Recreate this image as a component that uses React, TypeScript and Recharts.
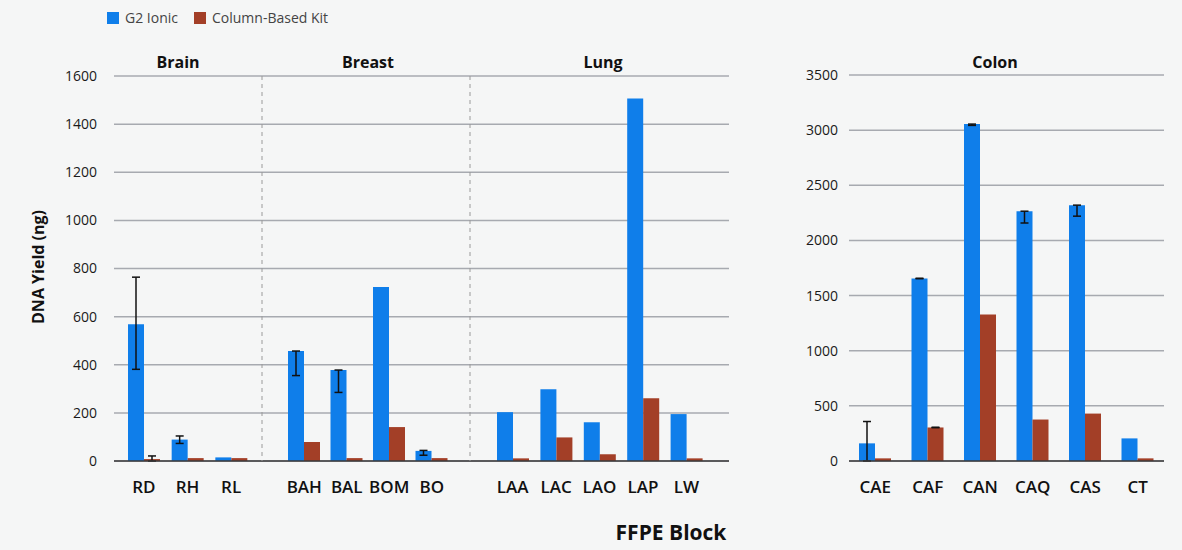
import { BarChart, Bar, XAxis, YAxis, CartesianGrid, ErrorBar } from 'recharts';

const BLUE = '#0f7eea';
const RUST = '#a33f27';
const GRID = '#a7aab0';
const FONT = '"Open Sans", Roboto, sans-serif';

const seriesNames = ['G2 Ionic', 'Column-Based Kit'];
const seriesColors = [BLUE, RUST];

// yields in ng; error entries are [minus, plus]
const brainBlocks = ['RD', 'RH', 'RL'];
const brainG2 = [568, 89, 15];
const brainKit = [8, 12, 12];
const brainG2Err = [[187, 196], [16, 15], null];
const brainKitErr = [[8, 13], null, null];

const breastBlocks = ['BAH', 'BAL', 'BOM', 'BO'];
const breastG2 = [457, 378, 723, 42];
const breastKit = [79, 12, 141, 12];
const breastG2Err = [[102, 0], [93, 0], null, [18, 2]];
const breastKitErr = [null, null, null, null];

const lungBlocks = ['LAA', 'LAC', 'LAO', 'LAP', 'LW'];
const lungG2 = [203, 298, 161, 1506, 195];
const lungKit = [11, 98, 28, 261, 11];
const lungG2Err = [null, null, null, null, null];
const lungKitErr = [null, null, null, null, null];

const colonBlocks = ['CAE', 'CAF', 'CAN', 'CAQ', 'CAS', 'CT'];
const colonG2 = [160, 1655, 3055, 2265, 2320, 205];
const colonKit = [24, 304, 1328, 376, 430, 24];
const colonG2Err = [[160, 198], [2, 2], [12, 0], [107, 0], [100, 0], null];
const colonKitErr = [null, [2, 2], null, null, null, null];

const leftTicks = [0, 200, 400, 600, 800, 1000, 1200, 1400, 1600];
const rightTicks = [0, 500, 1000, 1500, 2000, 2500, 3000, 3500];

const rows = (blocks: string[], g2: number[], kit: number[], g2Err: any[], kitErr: any[]) =>
  blocks.map((block, i) => ({ block, g2: g2[i], kit: kit[i], g2Err: g2Err[i], kitErr: kitErr[i] }));

type PanelProps = {
  data: any[];
  left: number;
  width: number;
  top: number;
  padL: number;
  padR: number;
  ticks: number[];
  yWidth?: number;
  yMargin?: number;
  marginRight?: number;
};

const Panel = ({ data, left, width, top, padL, padR, ticks, yWidth, yMargin, marginRight = 0 }: PanelProps) => (
  <div style={{ position: 'absolute', left, top: 0 }}>
    <BarChart
      width={width}
      height={500}
      data={data}
      barGap={0}
      margin={{ top, right: marginRight, bottom: 0, left: 0 }}
    >
      <CartesianGrid vertical={false} stroke={GRID} strokeWidth={1.5} />
      <XAxis
        dataKey="block"
        interval={0}
        height={39}
        tickLine={false}
        tickMargin={14}
        padding={{ left: padL, right: padR }}
        axisLine={{ stroke: '#3a3a3a', strokeWidth: 1.5 }}
        tick={{ fill: '#111', fontSize: 17, fontWeight: 600 }}
      />
      {yWidth ? (
        <YAxis
          width={yWidth}
          domain={[0, ticks[ticks.length - 1]]}
          ticks={ticks}
          interval={0}
          tickLine={false}
          axisLine={false}
          tickMargin={yMargin}
          tick={{ fill: '#1a1a1a', fontSize: 14, fontWeight: 500 }}
        />
      ) : (
        <YAxis hide domain={[0, ticks[ticks.length - 1]]} ticks={ticks} interval={0} />
      )}
      <Bar dataKey="g2" name={seriesNames[0]} fill={BLUE} barSize={16} isAnimationActive={false}>
        <ErrorBar dataKey="g2Err" width={4} stroke="#111" strokeWidth={1.5} />
      </Bar>
      <Bar dataKey="kit" name={seriesNames[1]} fill={RUST} barSize={16} isAnimationActive={false}>
        <ErrorBar dataKey="kitErr" width={4} stroke="#111" strokeWidth={1.5} />
      </Bar>
    </BarChart>
  </div>
);

const Divider = ({ x }: { x: number }) => (
  <svg style={{ position: 'absolute', left: x - 1, top: 76 }} width={2} height={385}>
    <line x1={1} y1={0} x2={1} y2={385} stroke="#9a9a9a" strokeWidth={1} strokeDasharray="4 4" />
  </svg>
);

const Title = ({ text, x }: { text: string; x: number }) => (
  <div
    style={{
      position: 'absolute',
      left: x - 60,
      width: 120,
      top: 51,
      textAlign: 'center',
      fontSize: 16,
      fontWeight: 700,
      color: '#111',
    }}
  >
    {text}
  </div>
);

export default function App() {
  return (
    <div
      style={{
        position: 'absolute',
        left: 0,
        top: 0,
        width: 1182,
        height: 550,
        background: '#f5f6f6',
        fontFamily: FONT,
        overflow: 'hidden',
      }}
    >
      {/* legend */}
      <div style={{ position: 'absolute', left: 107, top: 8, display: 'flex', alignItems: 'center', fontSize: 14, color: '#444' }}>
        {seriesNames.map((name, i) => (
          <div key={name} style={{ display: 'flex', alignItems: 'center', marginRight: 16 }}>
            <div style={{ width: 12, height: 12, background: seriesColors[i], marginRight: 6 }} />
            <span>{name}</span>
          </div>
        ))}
      </div>

      <Panel
        data={rows(brainBlocks, brainG2, brainKit, brainG2Err, brainKitErr)}
        left={0}
        width={262}
        top={76}
        padL={8}
        padR={9}
        ticks={leftTicks}
        yWidth={114}
        yMargin={11}
      />
      <Panel
        data={rows(breastBlocks, breastG2, breastKit, breastG2Err, breastKitErr)}
        left={262}
        width={208}
        top={76}
        padL={21}
        padR={17}
        ticks={leftTicks}
      />
      <Panel
        data={rows(lungBlocks, lungG2, lungKit, lungG2Err, lungKitErr)}
        left={470}
        width={259}
        top={76}
        padL={21}
        padR={21}
        ticks={leftTicks}
      />
      <Panel
        data={rows(colonBlocks, colonG2, colonKit, colonG2Err, colonKitErr)}
        left={760}
        width={410}
        top={75}
        padL={0}
        padR={0}
        ticks={rightTicks}
        yWidth={89}
        yMargin={5}
        marginRight={6}
      />

      <Divider x={262} />
      <Divider x={470} />

      <Title text="Brain" x={178} />
      <Title text="Breast" x={368} />
      <Title text="Lung" x={603} />
      <Title text="Colon" x={995} />

      <div
        style={{
          position: 'absolute',
          left: 38,
          top: 267,
          transform: 'translate(-50%, -50%) rotate(-90deg)',
          whiteSpace: 'nowrap',
          fontSize: 16,
          fontWeight: 700,
          color: '#111',
        }}
      >
        DNA Yield (ng)
      </div>

      <div
        style={{
          position: 'absolute',
          left: 571,
          width: 200,
          top: 518,
          textAlign: 'center',
          fontSize: 21,
          fontWeight: 700,
          color: '#111',
        }}
      >
        FFPE Block
      </div>
    </div>
  );
}
